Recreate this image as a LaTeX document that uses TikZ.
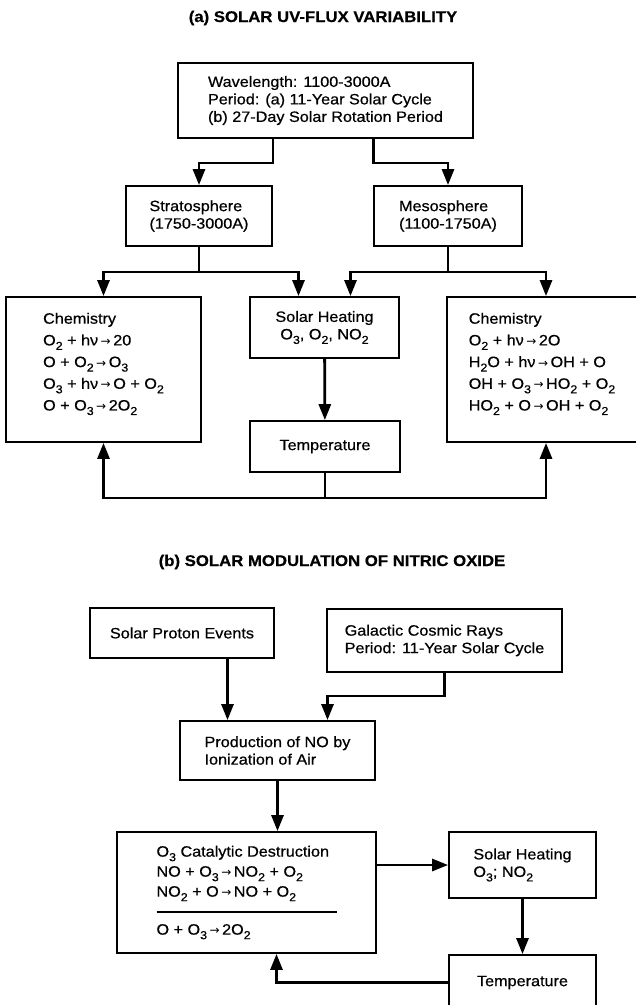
\documentclass[tikz,border=0pt]{standalone}
\usepackage{fontspec}
\setmainfont{Liberation Sans}[FakeStretch=1.08,FakeBold=0.6]
\newfontfamily\arrowfont{DejaVu Sans}
\usetikzlibrary{arrows.meta}

\newcommand{\ssub}[1]{\raisebox{-4.5pt}{\fontsize{11.5}{11.5}\selectfont #1}}
\newcommand{\yields}{\,{\arrowfont\fontsize{12}{12}\selectfont →}\,}

\begin{document}
\begin{tikzpicture}[x=1pt,y=-1pt,
	box/.style={draw,line width=1.8pt,align=left,inner sep=0pt,font=\fontsize{15}{17.5}\selectfont},
	chembox/.style={box,font=\fontsize{15}{21.7}\selectfont},
	ttl/.style={font=\bfseries\fontsize{15.5}{17}\selectfont},
	arr/.style={line width=2.8pt,-{Triangle[length=16pt,width=12pt]}},
	ln/.style={line width=2.8pt}]
	\useasboundingbox (0,0) rectangle (636,1005);
	\node[ttl] (ttlA) at (323,18) {(a) SOLAR UV-FLUX VARIABILITY};
	\node[box,minimum width=295pt,minimum height=75pt] (uv) at (325.5,100.5) {Wavelength: 1100-3000A\\Period: (a) 11-Year Solar Cycle\\(b) 27-Day Solar Rotation Period};
	\node[box,minimum width=146pt,minimum height=60pt] (strat) at (199,216) {Stratosphere\\(1750-3000A)};
	\node[box,minimum width=148pt,minimum height=60pt] (meso) at (448,216) {Mesosphere\\(1100-1750A)};
	\node[chembox,minimum width=195pt,minimum height=145pt] (chemL) at (103.5,369.5) {Chemistry\\O\ssub{2} + hν\yields 20\\O + O\ssub{2}\yields O\ssub{3}\\O\ssub{3} + hν\yields O + O\ssub{2}\\O + O\ssub{3}\yields 2O\ssub{2}\\[-6pt]};
	\node[box,align=center,minimum width=149pt,minimum height=61pt] (heatA) at (324.5,327.5) {Solar Heating\\O\ssub{3}, O\ssub{2}, NO\ssub{2}};
	\node[box,align=center,minimum width=150pt,minimum height=51pt] (tempA) at (325,446.5) {Temperature};
	\node[chembox,minimum width=190pt,minimum height=145pt] (chemR) at (542,369.5) {Chemistry\\O\ssub{2} + hν\yields 2O\\H\ssub{2}O + hν\yields OH + O\\OH + O\ssub{3}\yields HO\ssub{2} + O\ssub{2}\\HO\ssub{2} + O\yields OH + O\ssub{2}\\[-6pt]};
	\draw[arr] (uv.south -| strat.east) -- ++(0,24) -| (strat.north);
	\draw[arr] (uv.south -| meso.west) -- ++(0,24) -| (meso.north);
	\draw[ln] (strat.south) -- ++(0,25) coordinate (sbus);
	\draw[arr] (sbus) -| (chemL.north);
	\draw[arr] (sbus) -| ([xshift=-26pt]heatA.north);
	\draw[ln] (meso.south) -- ++(0,25) coordinate (mbus);
	\draw[arr] (mbus) -| ([xshift=26pt]heatA.north);
	\draw[arr] (mbus) -| ([xshift=4pt]chemR.north);
	\draw[arr] (heatA) -- (tempA);
	\draw[ln] (tempA.south) -- ++(0,25) coordinate (tbus);
	\draw[arr] (tbus) -| (chemL.south);
	\draw[arr] (tbus) -| ([xshift=4pt]chemR.south);

	\node[ttl] (ttlB) at (332,562) {(b) SOLAR MODULATION OF NITRIC OXIDE};
	\node[box,align=center,minimum width=184pt,minimum height=50pt] (spe) at (182,633) {Solar Proton Events};
	\node[box,minimum width=235pt,minimum height=63pt] (gcr) at (444.5,640.5) {Galactic Cosmic Rays\\Period: 11-Year Solar Cycle};
	\node[box,minimum width=195pt,minimum height=59pt] (prod) at (277.5,750.5) {Production of NO by\\Ionization of Air};
	\node[box,font=\fontsize{15}{20}\selectfont,minimum width=259pt,minimum height=121pt] (cat) at (246.5,892.5) {O\ssub{3} Catalytic Destruction\\NO + O\ssub{3}\yields NO\ssub{2} + O\ssub{2}\\NO\ssub{2} + O\yields NO + O\ssub{2}\\[-4pt]\rule{180pt}{1.5pt}\\[2pt]O + O\ssub{3}\yields 2O\ssub{2}};
	\node[box,minimum width=147pt,minimum height=66pt] (heatB) at (522.5,865) {Solar Heating\\O\ssub{3}; NO\ssub{2}};
	\node[box,align=center,minimum width=147pt,minimum height=55pt] (tempB) at (522.5,982.5) {Temperature};
	\coordinate (pin1) at ([xshift=-50pt]prod.north);
	\coordinate (pin2) at ([xshift=50pt]prod.north);
	\draw[arr] (pin1 |- spe.south) -- (pin1);
	\draw[arr] (gcr.south) -- ++(0,23) -| (pin2);
	\draw[arr] (prod.south) -- (prod.south |- cat.north);
	\draw[arr] (cat.east |- heatB.west) -- (heatB.west);
	\draw[arr] (heatB) -- (tempB);
	\draw[arr] (tempB.west) -| ([xshift=30pt]cat.south);
\end{tikzpicture}
\end{document}
